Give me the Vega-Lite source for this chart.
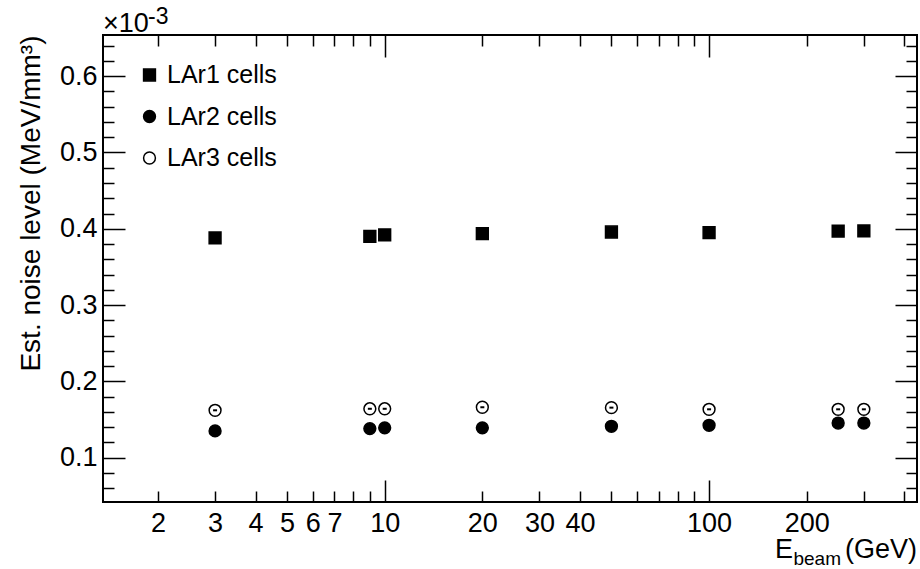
{
  "$schema": "https://vega.github.io/schema/vega-lite/v6.json",
  "width": 814,
  "height": 467,
  "autosize": "none",
  "padding": {"left": 103, "top": 35, "right": 3, "bottom": 67},
  "background": "white",
  "config": {
    "font": "Liberation Sans",
    "view": {"stroke": "black", "strokeWidth": 2},
    "axis": {
      "domain": false,
      "grid": false,
      "tickColor": "black",
      "tickWidth": 1.5,
      "labelColor": "black",
      "titleColor": "black",
      "labelFont": "Liberation Sans",
      "titleFont": "Liberation Sans",
      "labelFontSize": 27,
      "titleFontSize": 28,
      "titleFontWeight": "normal"
    },
    "legend": {
      "orient": "none",
      "legendX": 34,
      "legendY": 27.5,
      "padding": 0,
      "labelFont": "Liberation Sans",
      "labelFontSize": 25,
      "labelColor": "black",
      "labelOffset": 5,
      "rowPadding": 15.5,
      "symbolSize": 140,
      "symbolStrokeWidth": 1.5
    }
  },
  "datasets": {
    "noise": [
      {"E": 3, "series": "LAr1 cells", "noise": 0.388},
      {"E": 9, "series": "LAr1 cells", "noise": 0.390},
      {"E": 10, "series": "LAr1 cells", "noise": 0.392},
      {"E": 20, "series": "LAr1 cells", "noise": 0.3936},
      {"E": 50, "series": "LAr1 cells", "noise": 0.3957},
      {"E": 100, "series": "LAr1 cells", "noise": 0.3949},
      {"E": 250, "series": "LAr1 cells", "noise": 0.397},
      {"E": 300, "series": "LAr1 cells", "noise": 0.3972},
      {"E": 3, "series": "LAr2 cells", "noise": 0.135},
      {"E": 9, "series": "LAr2 cells", "noise": 0.138},
      {"E": 10, "series": "LAr2 cells", "noise": 0.139},
      {"E": 20, "series": "LAr2 cells", "noise": 0.139},
      {"E": 50, "series": "LAr2 cells", "noise": 0.141},
      {"E": 100, "series": "LAr2 cells", "noise": 0.1423},
      {"E": 250, "series": "LAr2 cells", "noise": 0.1453},
      {"E": 300, "series": "LAr2 cells", "noise": 0.1453},
      {"E": 3, "series": "LAr3 cells", "noise": 0.162},
      {"E": 9, "series": "LAr3 cells", "noise": 0.164},
      {"E": 10, "series": "LAr3 cells", "noise": 0.164},
      {"E": 20, "series": "LAr3 cells", "noise": 0.166},
      {"E": 50, "series": "LAr3 cells", "noise": 0.1655},
      {"E": 100, "series": "LAr3 cells", "noise": 0.1633},
      {"E": 250, "series": "LAr3 cells", "noise": 0.1633},
      {"E": 300, "series": "LAr3 cells", "noise": 0.1633}
    ]
  },
  "data": {"name": "noise"},
  "resolve": {"axis": {"x": "independent", "y": "independent"}},
  "layer": [
    {
      "mark": {"type": "point", "filled": true, "strokeWidth": 1.5, "opacity": 1, "size": 140},
      "encoding": {
        "x": {
          "field": "E",
          "type": "quantitative",
          "scale": {"type": "log", "domain": [1.354, 437.5], "nice": false},
          "axis": {
            "orient": "bottom",
            "values": [2, 3, 4, 5, 6, 7, 10, 20, 30, 40, 100, 200],
            "format": "d",
            "ticks": false,
            "labelPadding": 8,
            "labelFlush": false,
            "labelOverlap": false,
            "title": null
          }
        },
        "y": {
          "field": "noise",
          "type": "quantitative",
          "scale": {"domain": [0.0418, 0.654], "nice": false, "zero": false},
          "axis": {
            "orient": "left",
            "values": [0.1, 0.2, 0.3, 0.4, 0.5, 0.6],
            "format": ".1f",
            "ticks": false,
            "labelPadding": 6,
            "labelFlush": false,
            "labelOverlap": false,
            "title": "Est. noise level (MeV/mm³)",
            "titleAnchor": "end",
            "titlePadding": 14
          }
        },
        "shape": {
          "field": "series",
          "type": "nominal",
          "scale": {"domain": ["LAr1 cells", "LAr2 cells", "LAr3 cells"], "range": ["square", "circle", "circle"]},
          "legend": {"title": null}
        },
        "fill": {
          "field": "series",
          "type": "nominal",
          "scale": {"domain": ["LAr1 cells", "LAr2 cells", "LAr3 cells"], "range": ["black", "black", "white"]},
          "legend": {"title": null}
        },
        "stroke": {
          "field": "series",
          "type": "nominal",
          "scale": {"domain": ["LAr1 cells", "LAr2 cells", "LAr3 cells"], "range": ["black", "black", "black"]},
          "legend": {"title": null}
        }
      }
    },
    {
      "transform": [{"filter": "datum.series === 'LAr3 cells'"}],
      "mark": {"type": "point", "shape": "stroke", "size": 16, "stroke": "black", "strokeWidth": 2, "opacity": 1},
      "encoding": {
        "x": {
          "field": "E",
          "type": "quantitative",
          "axis": {"orient": "bottom", "values": [10, 100], "tickSize": -22, "labels": false, "title": null}
        },
        "y": {
          "field": "noise",
          "type": "quantitative",
          "axis": {"orient": "left", "values": [0.1, 0.2, 0.3, 0.4, 0.5, 0.6], "tickSize": -22, "labels": false, "title": null}
        }
      }
    },
    {
      "mark": {"type": "point", "opacity": 0},
      "encoding": {
        "x": {
          "field": "E",
          "type": "quantitative",
          "axis": {"orient": "bottom", "values": [2, 3, 4, 5, 6, 7, 8, 9, 20, 30, 40, 50, 60, 70, 80, 90, 200, 300, 400], "tickSize": -11, "labels": false, "title": null}
        },
        "y": {
          "field": "noise",
          "type": "quantitative",
          "axis": {"orient": "left", "values": [0.06, 0.08, 0.12, 0.14, 0.16, 0.18, 0.22, 0.24, 0.26, 0.28, 0.32, 0.34, 0.36, 0.38, 0.42, 0.44, 0.46, 0.48, 0.52, 0.54, 0.56, 0.58, 0.62, 0.64], "tickSize": -11, "labels": false, "title": null}
        }
      }
    },
    {
      "mark": {"type": "point", "opacity": 0},
      "encoding": {
        "x": {
          "field": "E",
          "type": "quantitative",
          "axis": {"orient": "top", "values": [10, 100], "tickSize": -22, "labels": false, "title": null}
        },
        "y": {
          "field": "noise",
          "type": "quantitative",
          "axis": {"orient": "right", "values": [0.1, 0.2, 0.3, 0.4, 0.5, 0.6], "tickSize": -22, "labels": false, "title": null}
        }
      }
    },
    {
      "mark": {"type": "point", "opacity": 0},
      "encoding": {
        "x": {
          "field": "E",
          "type": "quantitative",
          "axis": {"orient": "top", "values": [2, 3, 4, 5, 6, 7, 8, 9, 20, 30, 40, 50, 60, 70, 80, 90, 200, 300, 400], "tickSize": -11, "labels": false, "title": null}
        },
        "y": {
          "field": "noise",
          "type": "quantitative",
          "axis": {"orient": "right", "values": [0.06, 0.08, 0.12, 0.14, 0.16, 0.18, 0.22, 0.24, 0.26, 0.28, 0.32, 0.34, 0.36, 0.38, 0.42, 0.44, 0.46, 0.48, 0.52, 0.54, 0.56, 0.58, 0.62, 0.64], "tickSize": -11, "labels": false, "title": null}
        }
      }
    },
    {
      "data": {"values": [{}]},
      "mark": {"type": "text", "text": "×10", "font": "Liberation Sans", "fontSize": 27, "align": "left", "baseline": "alphabetic", "dx": 0, "dy": -3, "color": "black"},
      "encoding": {
        "x": {"datum": 1.354, "type": "quantitative", "axis": null},
        "y": {"datum": 0.654, "type": "quantitative", "axis": null}
      }
    },
    {
      "data": {"values": [{}]},
      "mark": {"type": "text", "text": "-3", "font": "Liberation Sans", "fontSize": 23, "align": "left", "baseline": "alphabetic", "dx": 45, "dy": -11, "color": "black"},
      "encoding": {
        "x": {"datum": 1.354, "type": "quantitative", "axis": null},
        "y": {"datum": 0.654, "type": "quantitative", "axis": null}
      }
    },
    {
      "data": {"values": [{}]},
      "mark": {"type": "text", "text": "(GeV)", "font": "Liberation Sans", "fontSize": 27, "align": "right", "baseline": "alphabetic", "dx": 0, "dy": 56, "color": "black"},
      "encoding": {
        "x": {"datum": 437.5, "type": "quantitative", "axis": null},
        "y": {"datum": 0.0418, "type": "quantitative", "axis": null}
      }
    },
    {
      "data": {"values": [{}]},
      "mark": {"type": "text", "text": "beam", "font": "Liberation Sans", "fontSize": 19, "align": "right", "baseline": "alphabetic", "dx": -76, "dy": 63, "color": "black"},
      "encoding": {
        "x": {"datum": 437.5, "type": "quantitative", "axis": null},
        "y": {"datum": 0.0418, "type": "quantitative", "axis": null}
      }
    },
    {
      "data": {"values": [{}]},
      "mark": {"type": "text", "text": "E", "font": "Liberation Sans", "fontSize": 27, "align": "right", "baseline": "alphabetic", "dx": -124, "dy": 56, "color": "black"},
      "encoding": {
        "x": {"datum": 437.5, "type": "quantitative", "axis": null},
        "y": {"datum": 0.0418, "type": "quantitative", "axis": null}
      }
    }
  ]
}
